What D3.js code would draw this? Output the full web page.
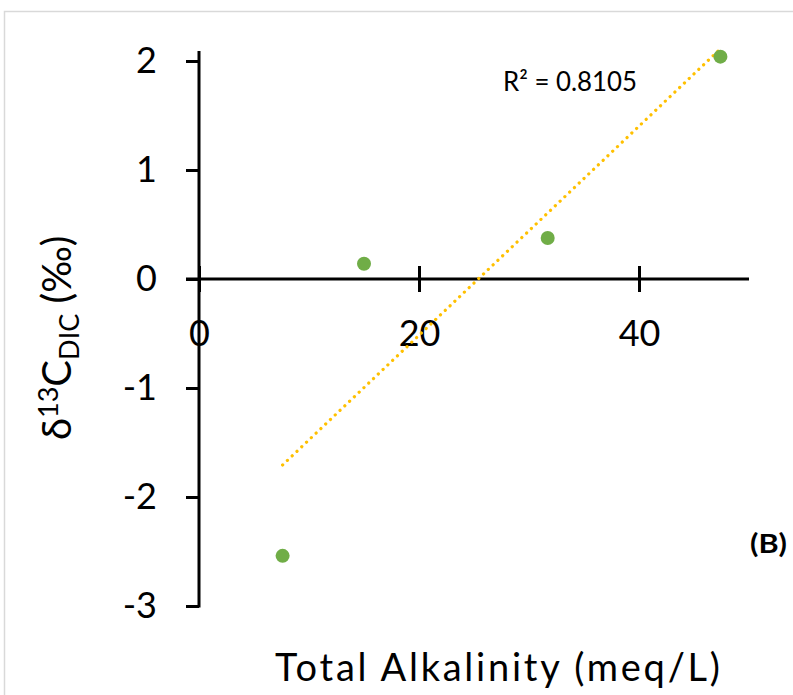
<!DOCTYPE html>
<html><head><meta charset="utf-8">
<script src="https://cdn.jsdelivr.net/npm/d3@7"></script>
<style>body{margin:0;background:#fff}svg{display:block;font-family:Lato,"Open Sans",sans-serif}</style>
</head><body><svg id="c" width="793" height="695"></svg>
<script>
const alkalinity = [7.6, 15.0, 31.7, 47.4];
const d13C = [-2.54, 0.14, 0.376, 2.04];
const xTicks = [0, 20, 40];
const yTicks = [-3, -2, -1, 0, 1, 2];
const r2Label = "R² = 0.8105";
const panelLabel = "(B)";

const svg = d3.select("#c");
const x = d3.scaleLinear().domain([0, 50]).range([199, 749]);
const y = d3.scaleLinear().domain([-3, 2]).range([606, 61]);

// border
svg.append("rect").attr("x", 4.5).attr("y", 11.5).attr("width", 800).attr("height", 700)
  .attr("fill", "none").attr("stroke", "#d9d9d9").attr("stroke-width", 1.5);

// y axis
const yAx = svg.append("g").attr("transform", `translate(${x(0)},0)`)
  .call(d3.axisLeft(y).tickValues(yTicks).tickSize(13).tickFormat(d => d < 0 ? "-" + Math.abs(d) : d).tickPadding(29));
yAx.select(".domain").remove();
yAx.append("line").attr("x1", 0).attr("x2", 0).attr("y1", 51).attr("y2", y(-3) + 1.5).attr("stroke", "#000").attr("stroke-width", 3);
yAx.selectAll(".tick line").attr("stroke", "#000").attr("stroke-width", 3);
yAx.selectAll(".tick text").attr("font-size", 36).attr("fill", "#000").attr("font-family", "Lato, sans-serif");

// x axis at y=0
const xAx = svg.append("g").attr("transform", `translate(0,${y(0)})`)
  .call(d3.axisBottom(x).tickValues(xTicks).tickSize(13).tickPadding(28));
xAx.select(".domain").remove();
xAx.append("line").attr("x1", x(0) - 13).attr("x2", x(50)).attr("y1", 0).attr("y2", 0).attr("stroke", "#000").attr("stroke-width", 3);
xAx.selectAll(".tick line").attr("y1", -13).attr("stroke", "#000").attr("stroke-width", 3);
xAx.selectAll(".tick text").attr("font-size", 36).attr("fill", "#000").attr("font-family", "Lato, sans-serif");

// regression
const n = alkalinity.length;
const mx = d3.mean(alkalinity), my = d3.mean(d13C);
let sxy = 0, sxx = 0;
for (let i = 0; i < n; i++) { sxy += (alkalinity[i] - mx) * (d13C[i] - my); sxx += (alkalinity[i] - mx) ** 2; }
const slope = sxy / sxx, icpt = my - slope * mx;
const x0 = d3.min(alkalinity), x1 = d3.max(alkalinity);
svg.append("line").attr("x1", x(x0)).attr("y1", y(icpt + slope * x0)).attr("x2", x(x1)).attr("y2", y(icpt + slope * x1))
  .attr("stroke", "#FFC000").attr("stroke-width", 3.2).attr("stroke-linecap", "round").attr("stroke-dasharray", "0.1,6.5");

// points
svg.append("g").selectAll("circle").data(alkalinity.map((v, i) => [v, d13C[i]])).join("circle")
  .attr("cx", d => x(d[0])).attr("cy", d => y(d[1])).attr("r", 7).attr("fill", "#70AD47");

// R2 label
svg.append("text").attr("x", 503).attr("y", 91).attr("font-size", 26).attr("fill", "#000")
  .attr("textLength", 134).attr("lengthAdjust", "spacingAndGlyphs").text(r2Label);

// panel label
svg.append("text").attr("x", 750).attr("y", 553).attr("font-size", 27).attr("font-weight", "bold").attr("fill", "#000")
  .attr("textLength", 37).attr("lengthAdjust", "spacingAndGlyphs").text(panelLabel);

// x title
svg.append("text").attr("x", 275).attr("y", 681).attr("font-size", 38).attr("fill", "#000")
  .attr("textLength", 445).attr("lengthAdjust", "spacing").text("Total Alkalinity (meq/L)");

// y title
const yt = svg.append("text").attr("transform", "translate(71,440) rotate(-90)").attr("font-size", 40).attr("fill", "#000");
yt.append("tspan").text("δ");
yt.append("tspan").attr("font-size", 27).attr("dy", -13).text("13");
yt.append("tspan").attr("dy", 13).text("C");
yt.append("tspan").attr("font-size", 27).attr("dy", 8).text("DIC");
yt.append("tspan").attr("dy", -8).text(" (‰)");
</script></body></html>
